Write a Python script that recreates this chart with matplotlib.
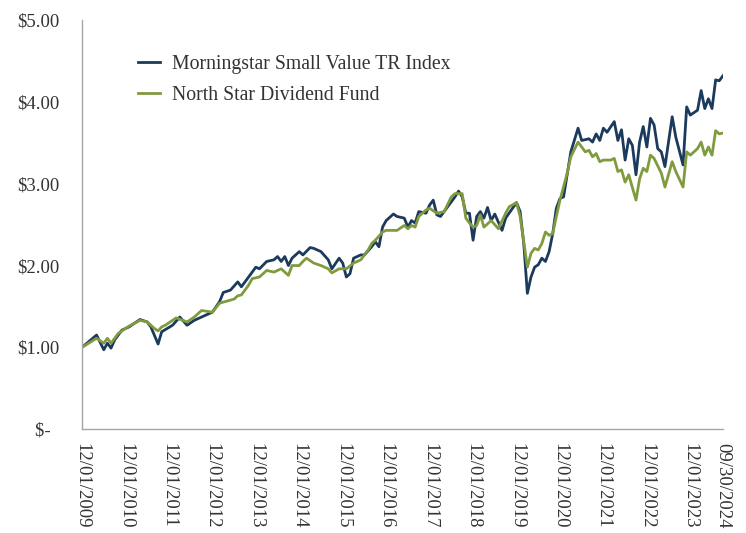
import matplotlib
matplotlib.use("Agg")
import matplotlib.pyplot as plt

# months since 12/01/2009 and growth of $1
index_months = [0, 4, 6, 7, 8, 9, 11, 13, 16, 18, 19, 21, 22, 25, 27, 29, 31, 33, 36, 38, 39, 41, 43, 44,
                46, 48, 49, 51, 53, 54, 55, 56, 57, 58, 60, 61, 63, 64, 66, 68, 69, 71, 72, 73, 74, 75,
                77, 78, 80, 81, 82, 83, 84, 86, 87, 89, 90, 91, 92, 93, 95, 96, 97, 98, 99, 100, 102,
                103, 104, 105, 106, 107, 108, 109, 110, 111, 112, 113, 114, 116, 117, 120, 121, 122, 123,
                124, 125, 126, 127, 128, 129, 130, 131, 132, 133, 135, 137, 138, 140, 141, 142, 143, 144,
                145, 147, 148, 149, 150, 151, 152, 153, 154, 155, 156, 157, 158, 159, 160, 161, 163, 164,
                166, 167, 168, 170, 171, 172, 173, 174, 175, 176, 177]
index_values = [1.00, 1.15, 0.97, 1.05, 0.99, 1.09, 1.21, 1.25, 1.34, 1.31, 1.25, 1.04, 1.19, 1.27, 1.37,
                1.27, 1.33, 1.37, 1.43, 1.56, 1.67, 1.70, 1.80, 1.74, 1.86, 1.98, 1.96, 2.05, 2.07, 2.11,
                2.05, 2.11, 2.00, 2.09, 2.17, 2.13, 2.22, 2.21, 2.17, 2.07, 1.96, 2.09, 2.03, 1.86, 1.90,
                2.09, 2.13, 2.13, 2.23, 2.29, 2.23, 2.47, 2.55, 2.63, 2.60, 2.58, 2.47, 2.55, 2.52, 2.66,
                2.64, 2.74, 2.80, 2.62, 2.60, 2.66, 2.78, 2.84, 2.91, 2.84, 2.64, 2.64, 2.31, 2.60, 2.66,
                2.58, 2.71, 2.55, 2.63, 2.43, 2.58, 2.77, 2.66, 2.27, 1.66, 1.86, 1.98, 2.01, 2.09, 2.05,
                2.17, 2.39, 2.70, 2.82, 2.84, 3.39, 3.68, 3.53, 3.55, 3.51, 3.61, 3.53, 3.68, 3.63, 3.76,
                3.53, 3.66, 3.29, 3.55, 3.47, 3.11, 3.51, 3.70, 3.45, 3.80, 3.72, 3.43, 3.39, 3.21, 3.82,
                3.57, 3.23, 3.94, 3.84, 3.90, 4.14, 3.92, 4.04, 3.92, 4.27, 4.26, 4.32]

fund_months = [0, 4, 6, 7, 8, 10, 13, 16, 18, 20, 21, 22, 23, 26, 29, 31, 33, 36, 38, 42, 43, 44, 45, 46,
               47, 49, 51, 53, 55, 56, 57, 58, 60, 61, 62, 64, 66, 68, 69, 71, 73, 75, 77, 79, 80, 81,
               83, 84, 87, 89, 90, 91, 92, 93, 95, 96, 98, 100, 102, 103, 105, 106, 107, 108, 109, 110,
               111, 113, 115, 117, 118, 120, 121, 123, 124, 125, 126, 127, 128, 129, 130, 131, 132, 134,
               135, 137, 139, 140, 141, 142, 143, 144, 146, 147, 148, 149, 150, 151, 153, 154, 155, 156,
               157, 158, 160, 161, 163, 164, 166, 167, 168, 170, 171, 172, 173, 174, 175, 176, 177]
fund_values = [1.00, 1.11, 1.05, 1.11, 1.05, 1.17, 1.26, 1.33, 1.31, 1.23, 1.20, 1.25, 1.27, 1.36, 1.31,
               1.37, 1.45, 1.43, 1.54, 1.59, 1.63, 1.64, 1.70, 1.76, 1.84, 1.86, 1.94, 1.92, 1.96, 1.92,
               1.88, 2.00, 2.00, 2.05, 2.09, 2.03, 2.00, 1.96, 1.91, 1.96, 1.96, 2.03, 2.07, 2.19, 2.27,
               2.31, 2.41, 2.43, 2.43, 2.49, 2.45, 2.49, 2.47, 2.60, 2.68, 2.70, 2.64, 2.66, 2.84, 2.88,
               2.88, 2.58, 2.52, 2.47, 2.49, 2.62, 2.47, 2.55, 2.45, 2.64, 2.72, 2.77, 2.60, 1.98, 2.15,
               2.21, 2.19, 2.27, 2.41, 2.37, 2.39, 2.60, 2.80, 3.13, 3.33, 3.51, 3.39, 3.41, 3.33, 3.37,
               3.27, 3.29, 3.29, 3.31, 3.15, 3.17, 3.02, 3.11, 2.80, 3.06, 3.19, 3.15, 3.35, 3.31, 3.13,
               2.96, 3.27, 3.15, 2.96, 3.39, 3.35, 3.43, 3.51, 3.35, 3.45, 3.35, 3.65, 3.61, 3.62]

tick_months = [0, 12, 24, 36, 48, 60, 72, 84, 96, 108, 120, 132, 144, 156, 168, 177]
tick_labels = ['12/01/2009', '12/01/2010', '12/01/2011', '12/01/2012', '12/01/2013', '12/01/2014',
               '12/01/2015', '12/01/2016', '12/01/2017', '12/01/2018', '12/01/2019', '12/01/2020',
               '12/01/2021', '12/01/2022', '12/01/2023', '09/30/2024']
y_ticks = [0, 1, 2, 3, 4, 5]
y_labels = ['$-  ', '$1.00', '$2.00', '$3.00', '$4.00', '$5.00']

navy = '#1b3a5c'
olive = '#809b3f'
text_grey = '#333333'

plt.rcParams['font.family'] = ['Liberation Serif', 'DejaVu Serif']

fig = plt.figure(figsize=(7.46, 5.33), dpi=100)
ax = fig.add_axes([0.110, 0.195, 0.859, 0.767])

ax.plot(index_months, index_values, color=navy, lw=2.0, label='Morningstar Small Value TR Index')
ax.plot(fund_months, fund_values, color=olive, lw=2.0, label='North Star Dividend Fund')

ax.set_xlim(0, 177)
ax.set_ylim(0, 5)
ax.set_xticks(tick_months)
ax.set_xticklabels(tick_labels, rotation=-90, fontsize=13.5, color=text_grey)
ax.set_yticks(y_ticks)
ax.set_yticklabels(y_labels, fontsize=13.5, color=text_grey)
ax.tick_params(axis='both', length=0)
ax.tick_params(axis='x', pad=10)
ax.tick_params(axis='y', pad=16)

for side in ['top', 'right']:
    ax.spines[side].set_visible(False)
for side in ['left', 'bottom']:
    ax.spines[side].set_color('#a6a6a6')
    ax.spines[side].set_linewidth(1.0)

ax.legend(loc='upper left', bbox_to_anchor=(0.185, 0.897), bbox_transform=fig.transFigure,
          frameon=False, fontsize=14.2, handlelength=1.1, handletextpad=0.6,
          labelspacing=0.6, borderpad=0, borderaxespad=0, labelcolor=text_grey)

fig.savefig('out.png', dpi=100)
